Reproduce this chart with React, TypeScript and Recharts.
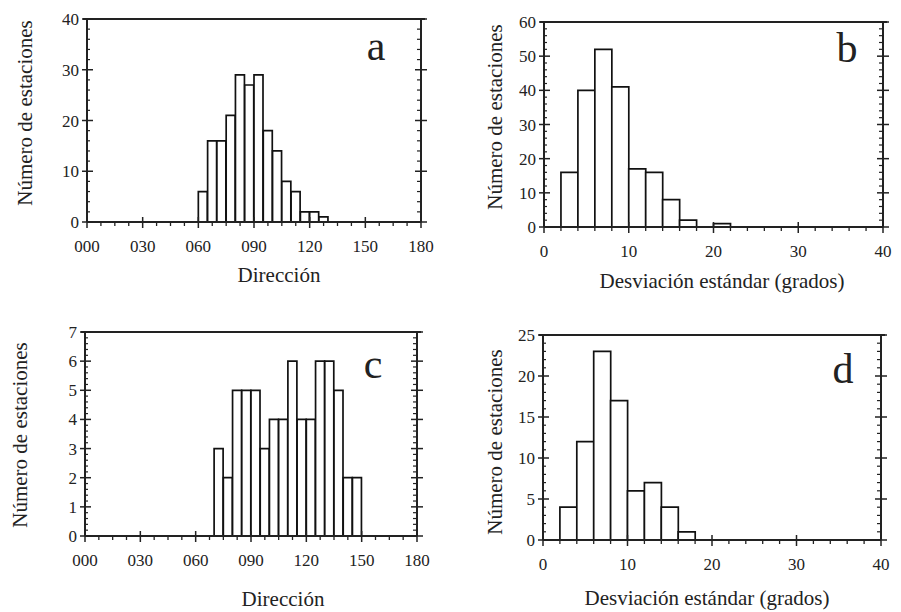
import React from 'react';
import { BarChart, Bar, XAxis, YAxis, ReferenceLine } from 'recharts';

const FONT = '"Liberation Serif", "Times New Roman", serif';
const INK = '#222';

// a: dirección, clases de 5 grados
const dirStartsA = [60, 65, 70, 75, 80, 85, 90, 95, 100, 105, 110, 115, 120, 125];
const dirCountsA = [6, 16, 16, 21, 29, 27, 29, 18, 14, 8, 6, 2, 2, 1];

// b: desviación estándar, clases de 2 grados
const sdStartsB = [2, 4, 6, 8, 10, 12, 14, 16, 20];
const sdCountsB = [16, 40, 52, 41, 17, 16, 8, 2, 1];

// c: dirección
const dirStartsC = [70, 75, 80, 85, 90, 95, 100, 105, 110, 115, 120, 125, 130, 135, 140, 145];
const dirCountsC = [3, 2, 5, 5, 5, 3, 4, 4, 6, 4, 4, 6, 6, 5, 2, 2];

// d: desviación estándar
const sdStartsD = [2, 4, 6, 8, 10, 12, 14, 16];
const sdCountsD = [4, 12, 23, 17, 6, 7, 4, 1];

const dirLabels = ['000', '030', '060', '090', '120', '150', '180'];
const sdLabels = ['0', '10', '20', '30', '40'];

const steps = (max: number, step: number) => {
  const out: number[] = [];
  for (let i = 0; i * step <= max + 1e-9; i++) out.push(+(i * step).toFixed(4));
  return out;
};
const isMajor = (v: number, step: number) => Math.abs(v / step - Math.round(v / step)) < 1e-6;

// one row per class over the whole axis, placed at the class centre
const buildBins = (starts: number[], counts: number[], xMax: number, w: number) => {
  const rows: { mid: number; count: number }[] = [];
  for (let s = 0; s < xMax; s += w) {
    const i = starts.indexOf(s);
    rows.push({ mid: s + w / 2, count: i >= 0 ? counts[i] : 0 });
  }
  return rows;
};

type PanelProps = {
  box: { left: number; top: number; width: number; height: number };
  plot: { x0: number; x1: number; y0: number; y1: number };
  starts: number[];
  counts: number[];
  binWidth: number;
  xMax: number;
  xMajor: number;
  xMinor: number;
  xLabels: string[];
  yMax: number;
  yMajor: number;
  yMinor: number;
};

const Panel = (p: PanelProps) => {
  const rows = buildBins(p.starts, p.counts, p.xMax, p.binWidth);
  // axes take 1px each (a 0px axis is not drawn)
  const margin = {
    left: p.plot.x0 - p.box.left - 1,
    top: p.plot.y0 - p.box.top,
    right: p.box.left + p.box.width - p.plot.x1 - 1,
    bottom: p.box.top + p.box.height - p.plot.y1 - 1,
  };
  const axisLine = { stroke: INK, strokeWidth: 2 };

  const bottomTick = (props: any) => {
    const { x, y, payload } = props;
    const v = payload.value;
    if (isMajor(v, p.xMajor)) {
      return (
        <g>
          <line x1={x} x2={x} y1={y - 5} y2={y + 6} stroke={INK} strokeWidth={1.5} />
          <text x={x} y={y + 30} textAnchor="middle" fontFamily={FONT} fontSize={17} fill={INK}>
            {p.xLabels[Math.round(v / p.xMajor)]}
          </text>
        </g>
      );
    }
    return <line x1={x} x2={x} y1={y} y2={y + 4} stroke={INK} strokeWidth={1.3} />;
  };

  const leftTick = (props: any) => {
    const { x, y, payload } = props;
    const v = payload.value;
    if (isMajor(v, p.yMajor)) {
      return (
        <g>
          <line x1={x - 5} x2={x + 6} y1={y} y2={y} stroke={INK} strokeWidth={1.5} />
          <text x={x - 8} y={y + 6} textAnchor="end" fontFamily={FONT} fontSize={17} fill={INK}>
            {v}
          </text>
        </g>
      );
    }
    return <line x1={x} x2={x + 3} y1={y} y2={y} stroke={INK} strokeWidth={1.2} />;
  };

  const rightTick = (props: any) => {
    const { x, y, payload } = props;
    const v = payload.value;
    if (isMajor(v, p.yMajor)) {
      return <line x1={x - 6} x2={x + 6} y1={y} y2={y} stroke={INK} strokeWidth={1.5} />;
    }
    return <line x1={x - 4} x2={x} y1={y} y2={y} stroke={INK} strokeWidth={1.2} />;
  };

  const xTicks = steps(p.xMax, p.xMinor);
  const yTicks = steps(p.yMax, p.yMinor);
  const over = p.xMax * 0.012;

  return (
    <div style={{ position: 'absolute', left: p.box.left, top: p.box.top }}>
      <BarChart
        width={p.box.width}
        height={p.box.height}
        data={rows}
        margin={margin}
        barCategoryGap={0}
        barGap={0}
      >
        <XAxis
          xAxisId="x"
          dataKey="mid"
          type="number"
          domain={[0, p.xMax]}
          allowDataOverflow
          ticks={xTicks}
          interval={0}
          height={1}
          tickSize={0}
          tickMargin={0}
          tickLine={false}
          axisLine={axisLine}
          tick={bottomTick}
        />
        <YAxis
          yAxisId="left"
          type="number"
          domain={[0, p.yMax]}
          allowDataOverflow
          ticks={yTicks}
          interval={0}
          width={1}
          tickSize={0}
          tickMargin={0}
          tickLine={false}
          axisLine={axisLine}
          tick={leftTick}
        />
        <YAxis
          yAxisId="right"
          orientation="right"
          type="number"
          domain={[0, p.yMax]}
          allowDataOverflow
          ticks={yTicks}
          interval={0}
          width={1}
          tickSize={0}
          tickMargin={0}
          tickLine={false}
          axisLine={axisLine}
          tick={rightTick}
        />
        <ReferenceLine
          xAxisId="x"
          yAxisId="left"
          segment={[{ x: -over, y: p.yMax }, { x: p.xMax + over, y: p.yMax }]}
          ifOverflow="visible"
          stroke={INK}
          strokeWidth={2}
        />
        <Bar
          xAxisId="x"
          yAxisId="left"
          dataKey="count"
          fill="#ffffff"
          stroke="#111"
          strokeWidth={1.7}
          isAnimationActive={false}
        />
      </BarChart>
    </div>
  );
};

const txt = { fontFamily: FONT, fill: INK } as const;

export default function App() {
  return (
    <div style={{ position: 'absolute', left: 0, top: 0, width: 901, height: 612, background: '#fff', overflow: 'hidden' }}>
      <Panel
        box={{ left: 0, top: 0, width: 450, height: 300 }}
        plot={{ x0: 87, x1: 421, y0: 19, y1: 222 }}
        starts={dirStartsA}
        counts={dirCountsA}
        binWidth={5}
        xMax={180}
        xMajor={30}
        xMinor={7.5}
        xLabels={dirLabels}
        yMax={40}
        yMajor={10}
        yMinor={2}
      />
      <Panel
        box={{ left: 450, top: 0, width: 451, height: 300 }}
        plot={{ x0: 544, x1: 883, y0: 22, y1: 227 }}
        starts={sdStartsB}
        counts={sdCountsB}
        binWidth={2}
        xMax={40}
        xMajor={10}
        xMinor={2}
        xLabels={sdLabels}
        yMax={60}
        yMajor={10}
        yMinor={2}
      />
      <Panel
        box={{ left: 0, top: 300, width: 450, height: 312 }}
        plot={{ x0: 85, x1: 417, y0: 332, y1: 536 }}
        starts={dirStartsC}
        counts={dirCountsC}
        binWidth={5}
        xMax={180}
        xMajor={30}
        xMinor={7.5}
        xLabels={dirLabels}
        yMax={7}
        yMajor={1}
        yMinor={0.2}
      />
      <Panel
        box={{ left: 450, top: 300, width: 451, height: 312 }}
        plot={{ x0: 543, x1: 881, y0: 335, y1: 540 }}
        starts={sdStartsD}
        counts={sdCountsD}
        binWidth={2}
        xMax={40}
        xMajor={10}
        xMinor={2}
        xLabels={sdLabels}
        yMax={25}
        yMajor={5}
        yMinor={1}
      />
      <svg width={901} height={612} style={{ position: 'absolute', left: 0, top: 0, pointerEvents: 'none' }}>
        <text {...txt} x={376} y={60} fontSize={42} textAnchor="middle">a</text>
        <text {...txt} x={847} y={62} fontSize={42} textAnchor="middle">b</text>
        <text {...txt} x={373} y={378} fontSize={42} textAnchor="middle">c</text>
        <text {...txt} x={843} y={383} fontSize={42} textAnchor="middle">d</text>

        <text {...txt} x={279} y={282} fontSize={21} textAnchor="middle">Dirección</text>
        <text {...txt} x={722} y={288} fontSize={21} textAnchor="middle">Desviación estándar (grados)</text>
        <text {...txt} x={283} y={606} fontSize={21} textAnchor="middle">Dirección</text>
        <text {...txt} x={707} y={605} fontSize={21} textAnchor="middle">Desviación estándar (grados)</text>

        <text {...txt} fontSize={21} textAnchor="middle" transform="translate(32,113) rotate(-90)">Número de estaciones</text>
        <text {...txt} fontSize={21} textAnchor="middle" transform="translate(502,117) rotate(-90)">Número de estaciones</text>
        <text {...txt} fontSize={21} textAnchor="middle" transform="translate(27,435) rotate(-90)">Número de estaciones</text>
        <text {...txt} fontSize={21} textAnchor="middle" transform="translate(502,442) rotate(-90)">Número de estaciones</text>
      </svg>
    </div>
  );
}
